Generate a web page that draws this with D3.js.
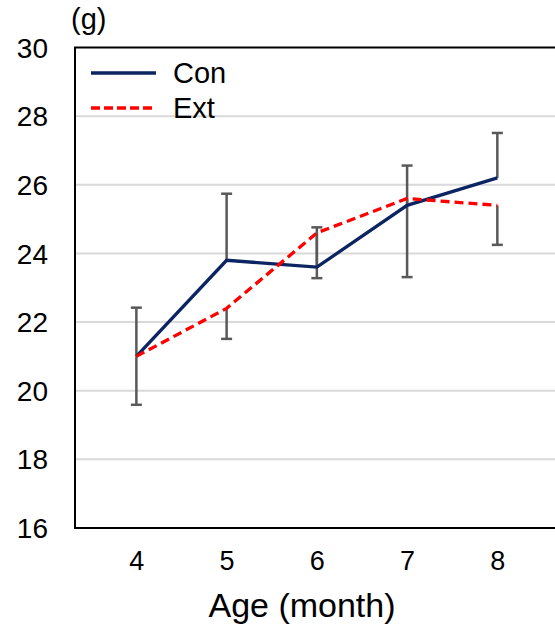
<!DOCTYPE html>
<html>
<head>
<meta charset="utf-8">
<script src="https://cdn.jsdelivr.net/npm/d3@7"></script>
<style>
  body { margin: 0; background: #fff; }
  text { font-family: "Liberation Sans", Arial, Helvetica, sans-serif; fill: #000; }
</style>
</head>
<body>
<div id="chart"></div>
<script>
var width  = 555;
var height = 634;

// data
var ages     = [4, 5, 6, 7, 8];
var conMean  = [21.0, 23.8, 23.6, 25.4, 26.2];
var conErr   = [1.42, 1.94, 1.16, 1.16, 1.31];
var extMean  = [21.0, 22.4, 24.6, 25.6, 25.4];
var extErr   = [1.41, 0.89, 1.32, 2.29, 1.15];
var yTicks   = [16, 18, 20, 22, 24, 26, 28, 30];
var seriesNames = ["Con", "Ext"];

var plotLeft = 75, plotRight = 556, plotTop = 47.5, plotBottom = 528;

var svg = d3.select("#chart").append("svg")
  .attr("width", width)
  .attr("height", height);

var x = d3.scaleLinear().domain([3.32, 8.65]).range([plotLeft, plotRight]);
var y = d3.scaleLinear().domain([16, 30]).range([plotBottom, plotTop]);

// gridlines
svg.selectAll(".grid")
  .data(yTicks.slice(1, -1))
  .enter().append("line")
  .attr("class", "grid")
  .attr("x1", plotLeft).attr("x2", plotRight)
  .attr("y1", function(d) { return y(d); })
  .attr("y2", function(d) { return y(d); })
  .style("stroke", "#d9d9d9")
  .style("stroke-width", 2);

// frame
svg.append("path")
  .attr("d", "M" + plotRight + "," + plotTop + "H" + plotLeft + "V" + plotBottom + "H" + plotRight)
  .style("fill", "none")
  .style("stroke", "#000")
  .style("stroke-width", 2);

// y axis labels
svg.selectAll(".ylab")
  .data(yTicks)
  .enter().append("text")
  .attr("class", "ylab")
  .attr("x", 48)
  .attr("y", function(d) { return y(d); })
  .attr("dy", "0.36em")
  .attr("text-anchor", "end")
  .style("font-size", "28px")
  .text(function(d) { return d; });

// x axis labels
var xAxis = d3.axisBottom(x).tickValues(ages).tickFormat(d3.format("d")).tickSize(0).tickPadding(0);
var gx = svg.append("g")
  .attr("transform", "translate(0," + 570 + ")")
  .call(xAxis);
gx.select(".domain").remove();
gx.selectAll("text")
  .attr("dy", 0)
  .attr("y", 0)
  .style("font-size", "27px")
  .style("font-family", "'Liberation Sans', Arial, sans-serif")
  .style("fill", "#000");

svg.append("text")
  .attr("x", 302)
  .attr("y", 617)
  .attr("text-anchor", "middle")
  .style("font-size", "34px")
  .text("Age (month)");

svg.append("text")
  .attr("x", 71)
  .attr("y", 29)
  .style("font-size", "29px")
  .text("(g)");

// error bars
function errorBars(means, errs, dir) {
  var g = svg.append("g");
  var cap = 5.5;
  ages.forEach(function(a, i) {
    var cx = x(a);
    var yEnd = y(means[i] + dir * errs[i]);
    g.append("line")
      .attr("x1", cx).attr("x2", cx)
      .attr("y1", y(means[i])).attr("y2", yEnd)
      .style("stroke", "#595959").style("stroke-width", 2.5);
    g.append("line")
      .attr("x1", cx - cap).attr("x2", cx + cap)
      .attr("y1", yEnd).attr("y2", yEnd)
      .style("stroke", "#595959").style("stroke-width", 2.5);
  });
}
errorBars(conMean, conErr, 1);
errorBars(extMean, extErr, -1);

var line = d3.line()
  .x(function(d) { return x(d[0]); })
  .y(function(d) { return y(d[1]); });

svg.append("path")
  .datum(d3.zip(ages, conMean))
  .attr("d", line)
  .style("fill", "none")
  .style("stroke", "#0c2461")
  .style("stroke-width", 3.3);

svg.append("path")
  .datum(d3.zip(ages, extMean))
  .attr("d", line)
  .style("fill", "none")
  .style("stroke", "#ff0000")
  .style("stroke-width", 3.3)
  .style("stroke-dasharray", "9,5");

// legend
var legend = svg.selectAll(".legend")
  .data(seriesNames)
  .enter().append("g")
  .attr("class", "legend")
  .attr("transform", function(d, i) { return "translate(91," + (73 + i * 35) + ")"; });

legend.append("line")
  .attr("x1", 0).attr("x2", 65)
  .style("stroke", function(d, i) { return i ? "#ff0000" : "#0c2461"; })
  .style("stroke-width", 3.3)
  .style("stroke-dasharray", function(d, i) { return i ? "9,4" : null; });

legend.append("text")
  .attr("x", 82)
  .attr("y", 10)
  .style("font-size", "29px")
  .text(function(d) { return d; });
</script>
</body>
</html>
